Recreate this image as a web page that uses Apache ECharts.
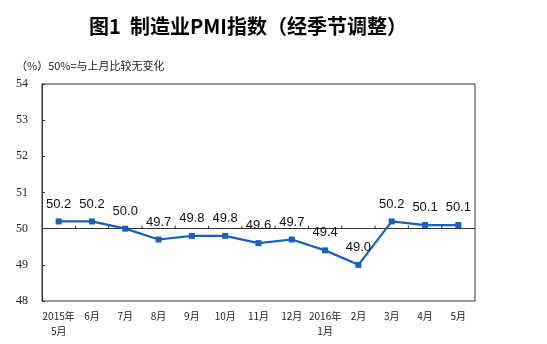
<!DOCTYPE html>
<html>
<head>
<meta charset="utf-8">
<script src="https://cdn.jsdelivr.net/npm/echarts@6/dist/echarts.min.js"></script>
<style>
html,body{margin:0;padding:0;background:#fff;}
#chart{width:547px;height:344px;}
</style>
</head>
<body>
<div id="chart"></div>
<script>
// Manufacturing PMI, seasonally adjusted, May 2015 – May 2016
const months = ['2015年\n5月', '6月', '7月', '8月', '9月', '10月', '11月', '12月', '2016年\n1月', '2月', '3月', '4月', '5月'];
const pmi = [50.2, 50.2, 50.0, 49.7, 49.8, 49.8, 49.6, 49.7, 49.4, 49.0, 50.2, 50.1, 50.1];
const yTicks = [48, 49, 50, 51, 52, 53, 54];
const baseline = 50;

const chart = echarts.init(document.getElementById('chart'), null, { renderer: 'canvas' });

chart.setOption({
  animation: false,
  backgroundColor: '#fff',
  title: [{
    text: '图1  制造业PMI指数（经季节调整）',
    left: 243, top: 11, textAlign: 'center',
    textStyle: { fontFamily: 'Noto Sans CJK SC', fontSize: 20, fontWeight: 'bold', color: '#000' }
  }, {
    text: '（%）50%=与上月比较无变化',
    left: 11, top: 55,
    textStyle: { fontFamily: 'Noto Sans CJK SC', fontSize: 11, fontWeight: 'normal', color: '#222' }
  }],
  grid: {
    left: 42, right: 72, top: 84, bottom: 43,
    show: true, borderColor: '#333', borderWidth: 1, backgroundColor: '#fff'
  },
  xAxis: {
    type: 'category',
    data: months,
    boundaryGap: true,
    axisLine: { show: false },
    axisTick: { show: false },
    axisLabel: {
      interval: 0, margin: 8, lineHeight: 15,
      fontFamily: 'Noto Sans CJK SC', fontSize: 10, color: '#222'
    },
    splitLine: { show: false }
  },
  yAxis: {
    type: 'value',
    min: yTicks[0], max: yTicks[yTicks.length - 1], interval: 1,
    axisLine: { show: true, lineStyle: { color: '#333' } },
    axisTick: { show: true, inside: true, length: 3, lineStyle: { color: '#333' } },
    axisLabel: { margin: 14, fontFamily: 'Liberation Serif', fontSize: 12, color: '#222' },
    splitLine: { show: false }
  },
  series: [{
    type: 'custom',
    silent: true,
    z: 1,
    data: months.map((m, i) => i),
    renderItem: function (params, api) {
      // baseline tick marks at category boundaries
      const i = api.value(0);
      const p = api.coord([i, baseline]);
      const half = api.size([1, 0])[0] / 2;
      if (i === 0) return { type: 'group', children: [] };
      return {
        type: 'line',
        shape: { x1: p[0] - half, y1: p[1], x2: p[0] - half, y2: p[1] - 3 },
        style: { stroke: '#333', lineWidth: 1 }
      };
    }
  }, {
    type: 'line',
    data: pmi,
    z: 3,
    symbol: 'rect',
    symbolSize: 6,
    itemStyle: { color: '#1a5fbe' },
    lineStyle: { color: '#1a5fbe', width: 2.2 },
    label: {
      show: true, position: 'top', distance: 8,
      formatter: p => p.value.toFixed(1),
      fontFamily: 'Liberation Sans', fontSize: 13, color: '#111'
    },
    markLine: {
      silent: true, symbol: 'none', z: 1,
      label: { show: false },
      lineStyle: { color: '#333', width: 1, type: 'solid' },
      data: [{ yAxis: baseline }]
    }
  }]
});
</script>
</body>
</html>
